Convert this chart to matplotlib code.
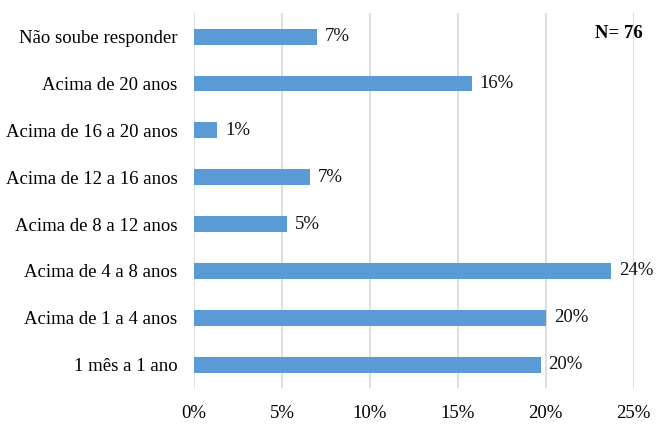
import matplotlib
matplotlib.use("Agg")
import matplotlib.pyplot as plt

categories = ["1 mês a 1 ano", "Acima de 1 a 4 anos", "Acima de 4 a 8 anos",
              "Acima de 8 a 12 anos", "Acima de 12 a 16 anos", "Acima de 16 a 20 anos",
              "Acima de 20 anos", "Não soube responder"]
values = [19.7, 20.0, 23.7, 5.3, 6.6, 1.3, 15.8, 7.0]
labels = ["20%", "20%", "24%", "5%", "7%", "1%", "16%", "7%"]
xticks = [0, 5, 10, 15, 20, 25]
xticklabels = ["0%", "5%", "10%", "15%", "20%", "25%"]

plt.rcParams['font.family'] = ['Liberation Serif', 'DejaVu Serif']

fig = plt.figure(figsize=(6.56, 4.26), dpi=100)
ax = fig.add_axes([0.296, 0.089, 0.670, 0.880])

y = list(range(len(categories)))
ax.barh(y, values, height=0.34, color="#5B9BD5", zorder=3)
for yi, v, lab in zip(y, values, labels):
    ax.text(v + 0.45, yi, lab, va="center", ha="left", fontsize=13.5, color="#111111")

ax.set_xlim(0, 25)
ax.set_ylim(-0.5, len(categories) - 0.5)
ax.set_xticks(xticks)
ax.set_xticklabels(xticklabels, fontsize=13.5)
ax.set_yticks(y)
ax.set_yticklabels(categories, fontsize=13.5)
ax.tick_params(length=0, pad=12)
ax.tick_params(axis='x', pad=12)
ax.grid(axis='x', color="#D9D9D9", linewidth=1.2, zorder=0)
for s in ax.spines.values():
    s.set_visible(False)

ax.text(1.02, 0.945, "N= 76", transform=ax.transAxes, ha="right", va="center",
        fontsize=13.5, fontweight="bold", zorder=5)

fig.savefig("out.png", dpi=100)
